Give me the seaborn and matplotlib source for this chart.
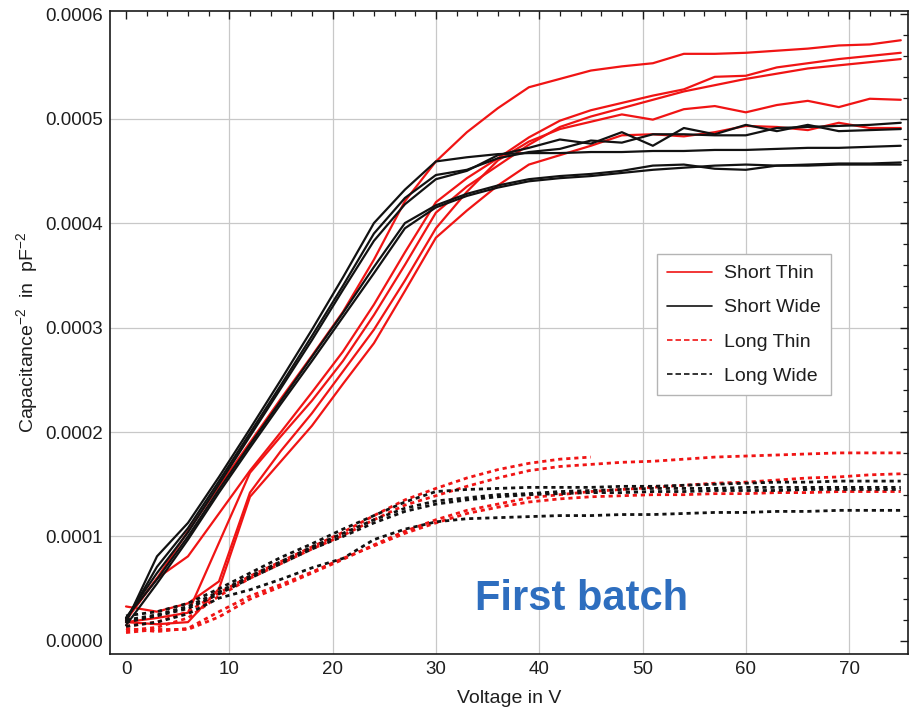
import numpy as np
import pandas as pd
import matplotlib
matplotlib.use("Agg")
import matplotlib.pyplot as plt
from matplotlib.lines import Line2D
from matplotlib.ticker import MultipleLocator, FormatStrFormatter
import seaborn as sns

# Bias voltage steps (V)
voltage = list(range(0, 76, 3))

# 1/C^2 curves, in units of 1e-6 pF^-2, one list per measured structure
short_thin = [
    [20, 60, 105, 148, 190, 232, 273, 315, 365, 421, 459, 487, 510, 530, 538, 546, 550, 553, 562, 562, 563, 565, 567, 570, 571, 575],
    [20, 60, 81, 122, 163, 200, 238, 277, 322, 372, 420, 443, 462, 482, 498, 508, 515, 522, 528, 540, 541, 549, 553, 557, 560, 563],
    [18, 22, 27, 94, 161, 196, 230, 268, 312, 360, 410, 435, 455, 475, 492, 502, 510, 518, 526, 532, 538, 543, 548, 551, 554, 557],
    [33, 28, 36, 57, 142, 182, 218, 258, 298, 345, 395, 430, 460, 478, 490, 497, 504, 499, 509, 512, 506, 513, 517, 511, 519, 518],
    [18, 16, 18, 50, 138, 172, 206, 246, 285, 335, 386, 412, 436, 456, 465, 474, 484, 485, 483, 487, 493, 492, 489, 496, 491, 491],
]
short_wide = [
    [18, 81, 113, 157, 203, 250, 298, 348, 400, 432, 459, 463, 466, 467, 467, 468, 468, 469, 469, 470, 470, 471, 472, 472, 473, 474],
    [20, 71, 108, 153, 199, 245, 292, 340, 390, 424, 446, 451, 462, 468, 471, 479, 477, 485, 485, 484, 484, 491, 492, 493, 494, 496],
    [22, 65, 104, 150, 196, 242, 288, 336, 383, 418, 442, 450, 465, 472, 480, 476, 487, 474, 491, 485, 494, 488, 494, 488, 489, 490],
    [22, 59, 100, 145, 188, 230, 272, 314, 358, 400, 417, 428, 436, 442, 445, 447, 450, 455, 456, 452, 451, 455, 456, 457, 457, 458],
    [15, 55, 97, 142, 185, 227, 268, 310, 352, 395, 415, 426, 434, 440, 443, 445, 448, 451, 453, 455, 456, 455, 455, 456, 456, 456],
]
long_thin = [
    [14, 18, 28, 46, 62, 76, 90, 104, 120, 135, 146, 156, 164, 170, 174, 176],
    [10, 13, 22, 43, 60, 74, 88, 101, 116, 130, 139, 148, 156, 163, 167, 169, 171, 172, 174, 176, 177, 178, 179, 180, 180, 180],
    [8, 11, 11, 23, 40, 52, 65, 78, 92, 105, 116, 125, 131, 137, 140, 143, 145, 147, 149, 151, 152, 154, 156, 157, 159, 160],
    [12, 9, 12, 28, 43, 54, 66, 79, 91, 103, 113, 122, 128, 133, 136, 138, 139, 140, 140, 141, 141, 142, 142, 143, 143, 143],
]
long_wide = [
    [24, 28, 36, 50, 65, 80, 93, 107, 120, 133, 143, 145, 146, 147, 147, 147, 148, 148, 149, 150, 151, 152, 152, 153, 153, 153],
    [20, 25, 33, 47, 62, 76, 90, 103, 116, 127, 134, 137, 140, 141, 143, 144, 145, 146, 146, 146, 147, 147, 147, 147, 147, 147],
    [18, 24, 31, 45, 60, 74, 88, 100, 113, 124, 131, 135, 138, 140, 141, 142, 142, 143, 143, 144, 144, 144, 145, 145, 145, 145],
    [14, 18, 26, 41, 49, 59, 70, 79, 97, 107, 114, 117, 118, 119, 120, 120, 121, 121, 122, 123, 123, 124, 124, 125, 125, 125],
]

groups = ["Short Thin", "Short Wide", "Long Thin", "Long Wide"]
curves = [short_thin, short_wide, long_thin, long_wide]

rows = []
for name, sets in zip(groups, curves):
    for k, vals in enumerate(sets):
        for v, c in zip(voltage, vals):
            rows.append({"Voltage": v, "C2": c * 1e-6, "group": name, "run": f"{name}-{k}"})
df = pd.DataFrame(rows)

RED = "#f01414"
BLACK = "#121212"
palette = {"Short Thin": RED, "Short Wide": BLACK, "Long Thin": RED, "Long Wide": BLACK}
dashes = {"Short Thin": "", "Short Wide": "", "Long Thin": (1.5, 1.4), "Long Wide": (1.5, 1.4)}
sizes = {"Short Thin": 1.6, "Short Wide": 1.6, "Long Thin": 2.0, "Long Wide": 2.0}

sns.set_theme(style="white")
plt.rcParams["font.family"] = ["Liberation Sans", "DejaVu Sans"]
plt.rcParams["mathtext.fontset"] = "custom"
plt.rcParams["mathtext.rm"] = "Liberation Sans"
plt.rcParams["mathtext.it"] = "Liberation Sans:italic"
plt.rcParams["mathtext.default"] = "regular"

fig = plt.figure(figsize=(9.09, 7.11), dpi=100)
ax = fig.add_axes([110 / 909, 57 / 711, 798 / 909, 643 / 711])

sns.lineplot(
    data=df, x="Voltage", y="C2", hue="group", style="group", size="group",
    units="run", estimator=None, palette=palette, dashes=dashes, sizes=sizes,
    hue_order=groups, style_order=groups, size_order=groups,
    legend=False, ax=ax,
)
for ln in ax.get_lines():
    ln.set_dash_capstyle("butt")

ax.set_xlim(-1.55, 75.7)
ax.set_ylim(-0.0000125, 0.000603)

ax.xaxis.set_major_locator(MultipleLocator(10))
ax.xaxis.set_minor_locator(MultipleLocator(2))
ax.yaxis.set_major_locator(MultipleLocator(0.0001))
ax.yaxis.set_minor_locator(MultipleLocator(0.00002))
ax.yaxis.set_major_formatter(FormatStrFormatter("%.4f"))

ax.grid(True, which="major", color="#c8c8c8", linewidth=0.9)
fig.canvas.draw()
for tick, gl in zip(ax.get_xticks(), ax.xaxis.get_gridlines()):
    if abs(tick) < 1e-9 or tick > 75:
        gl.set_visible(False)
for tick, gl in zip(ax.get_yticks(), ax.yaxis.get_gridlines()):
    if abs(tick) < 1e-12 or tick > 0.00055:
        gl.set_visible(False)

for s in ax.spines.values():
    s.set_color("#1a1a1a")
    s.set_linewidth(1.2)

txt = "#1e1e1e"
ax.tick_params(which="both", direction="in", top=True, right=True, color="#1a1a1a")
ax.tick_params(which="major", length=6, width=1.0, labelsize=13.5, labelcolor=txt, pad=5)
ax.tick_params(which="minor", length=3.5, width=0.9)

ax.set_xlabel("Voltage in V", fontsize=14, color=txt)
ax.xaxis.set_label_coords(0.5, -0.056)
ax.set_ylabel("Capacitance$^{-2}$  in  pF$^{-2}$", fontsize=14, color=txt)
ax.yaxis.set_label_coords(-0.088, 0.5)

handles = [
    Line2D([], [], color=RED, lw=1.2),
    Line2D([], [], color=BLACK, lw=1.2),
    Line2D([], [], color=RED, lw=1.2, dashes=(3.3, 1.8)),
    Line2D([], [], color=BLACK, lw=1.2, dashes=(3.3, 1.8)),
]
leg = ax.legend(
    handles, groups, loc="upper left", bbox_to_anchor=(0.685, 0.622),
    borderaxespad=0, fontsize=14, frameon=True, fancybox=False,
    edgecolor="#b4b4b4", framealpha=1, handlelength=2.3, handletextpad=0.6,
    labelspacing=0.85, borderpad=0.55,
)
leg.get_frame().set_linewidth(1.0)
for t in leg.get_texts():
    t.set_color(txt)

ax.text(0.5915, 0.0684, "First batch", transform=ax.transAxes, ha="center",
        va="baseline", fontsize=30, fontweight="bold", color="#2e6ebf")

fig.savefig("out.png", dpi=100)
